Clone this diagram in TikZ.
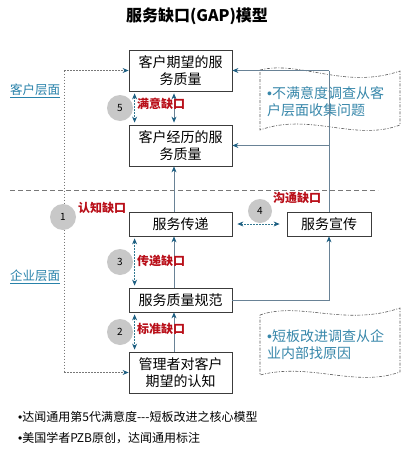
\documentclass[tikz,border=0pt]{standalone}
\usepackage{fontspec}
\setmainfont{Noto Sans CJK SC}
\newfontfamily\lsans{Liberation Sans}
\newcommand{\bul}{{\lsans •}}
\usetikzlibrary{arrows.meta,calc}
\definecolor{boxdraw}{RGB}{60,60,60}
\definecolor{linegray}{RGB}{105,130,150}
\definecolor{arrteal}{RGB}{30,95,130}
\definecolor{dotteal}{RGB}{50,120,145}
\definecolor{gapred}{RGB}{185,15,25}
\definecolor{labelblue}{RGB}{40,130,170}
\definecolor{flagtext}{RGB}{55,135,170}
\definecolor{circfill}{RGB}{200,200,200}
\definecolor{sepgray}{RGB}{120,120,120}
\definecolor{flaggray}{RGB}{90,90,90}
\begin{document}
\begin{tikzpicture}[x=1pt,y=-1pt,
  box/.style={draw=boxdraw, line width=0.8pt, fill=white, minimum width=103pt,
    inner sep=0pt, align=center, font=\fontsize{14}{17}\selectfont},
  gapc/.style={circle, fill=circfill, minimum size=26pt, inner sep=0pt,
    font=\fontsize{10}{10}\selectfont},
  gapl/.style={text=gapred, font=\bfseries\fontsize{12}{12}\selectfont, inner sep=0pt, anchor=west},
  lvl/.style={text=labelblue, font=\fontsize{12.5}{13}\selectfont, inner sep=0pt, anchor=west},
  tipa/.tip={Stealth[length=6pt,width=5pt,color=arrteal]},
  sol/.style={draw=linegray, line width=0.7pt, -tipa},
  dotarr/.style={draw=dotteal, line width=0.7pt, dash pattern=on 1.5pt off 1.5pt, tipa-tipa},
  leftdot/.style={draw=sepgray, line width=0.7pt, dash pattern=on 1.5pt off 1.5pt},
  flagline/.style={draw=flaggray, line width=0.6pt, dash pattern=on 3pt off 1.5pt on 1pt off 1.5pt, fill=white},
  flagt/.style={text=flagtext, font=\fontsize{14}{17}\selectfont, align=left, inner sep=0pt, anchor=north west},
  foot/.style={text=black, font=\fontsize{12}{12}\selectfont, inner sep=0pt, anchor=west}
]
\useasboundingbox (0,0) rectangle (402,450);
\fill[white] (0,0) rectangle (402,450);

% title
\node[font=\bfseries\fontsize{16}{16}\selectfont, inner sep=0pt] (title) at (197,16) {服务缺口(GAP)模型};

% flags
\draw[flagline] (260,70) .. controls (300,60) and (345,90) .. (400,71) -- (400,125)
   .. controls (355,142) and (310,112) .. (260,130) -- cycle;
\draw[flagline] (260,315) .. controls (300,301) and (345,327) .. (400,308) -- (400,372)
   .. controls (355,388) and (310,362) .. (260,375) -- cycle;
\node[flagt] (f1) at (267,86) {\bul 不满意度调查从客\\户层面收集问题};
\node[flagt] (f2) at (267,329) {\bul 短板改进调查从企\\业内部找原因};

% separator
\draw[draw=sepgray, line width=0.7pt, dash pattern=on 5pt off 3pt] (10,190) -- (378,190);

% boxes
\node[box, minimum height=41pt] (b1) at (180.5,70.5) {客户期望的服\\务质量};
\node[box, minimum height=41pt] (b2) at (180.5,145.5) {客户经历的服\\务质量};
\node[box, minimum height=24pt] (b3) at (180.5,224) {服务传递};
\node[box, minimum height=24pt, minimum width=84pt] (b4) at (329,224) {服务宣传};
\node[box, minimum height=24pt] (b5) at (180.5,300) {服务质量规范};
\node[box, minimum height=41pt] (b6) at (180.5,372.5) {管理者对客户\\期望的认知};

% level labels
\node[lvl] (l1) at (10,91) {\underline{客户层面}};
\node[lvl] (l2) at (10,277) {\underline{企业层面}};

% left dotted connector
\coordinate (lt) at (64,70.5);
\coordinate (lb) at (64,372.5);
\draw[leftdot] (lt) -- (lb);
\draw[leftdot, -tipa] (lt) -- (b1.west);
\draw[leftdot, -tipa] (lb) -- (b6.west);

% right connectors
\coordinate (rt) at (b4.north |- b1.east);
\coordinate (rm) at (b4.north |- b2.east);
\draw[draw=linegray, line width=0.7pt] (b4.north) -- (rt);
\draw[sol] (rt) -- (b1.east);
\draw[sol] (rm) -- (b2.east);
\draw[sol] (b5.east) -| (b4.south);

% vertical solid arrows
\draw[sol] ($(b3.north)+(-6.5,0)$) -- ($(b2.south)+(-6.5,0)$);
\draw[sol] ($(b5.north)+(-6.5,0)$) -- ($(b3.south)+(-6.5,0)$);
\draw[sol] ($(b6.north)+(-6.5,0)$) -- ($(b5.south)+(-6.5,0)$);
\draw[draw=linegray, line width=0.7pt, tipa-tipa] ($(b1.south)+(-6.5,2)$) -- ($(b2.north)+(-6.5,-2)$);

% dotted double arrows
\draw[dotarr] ($(b1.south west)+(6,2)$) -- ($(b2.north west)+(6,-2)$);
\draw[dotarr] ($(b3.south west)+(6,2)$) -- ($(b5.north west)+(6,-2)$);
\draw[dotarr] ($(b5.south west)+(6,2)$) -- ($(b6.north west)+(6,-2)$);
\draw[dotarr] ($(b3.east)+(5,0)$) -- ($(b4.west)+(-7,0)$);

% gap circles
\node[gapc] (c5) at (120,108) {5};
\node[gapc] (c1) at (63,217) {1};
\node[gapc, minimum size=24pt] (c4) at (260,211) {4};
\node[gapc] (c3) at (120,262) {3};
\node[gapc] (c2) at (120,332) {2};

% gap labels
\node[gapl] (g5) at (137,104) {满意缺口};
\node[gapl] (g1) at (78,208) {认知缺口};
\node[gapl] (g4) at (273,198) {沟通缺口};
\node[gapl] (g3) at (137,261) {传递缺口};
\node[gapl] (g2) at (137,329) {标准缺口};

% footer
\node[foot] (ft1) at (18,417) {\bul 达闻通用第5代满意度-{}-{}-短板改进之核心模型};
\node[foot] (ft2) at (18,438) {\bul 美国学者PZB原创，达闻通用标注};
\end{tikzpicture}
\end{document}
